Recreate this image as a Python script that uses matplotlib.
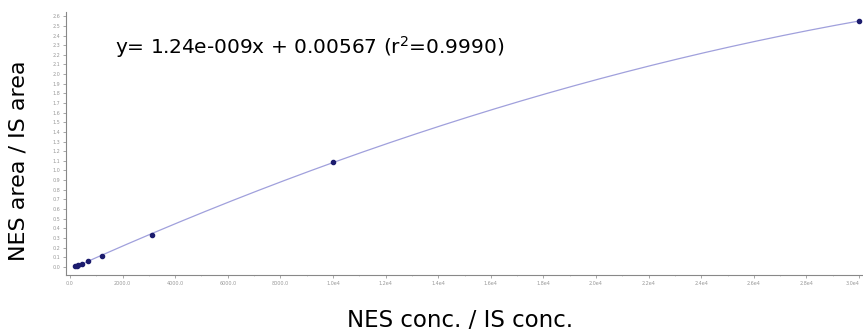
import numpy as np
import matplotlib
matplotlib.use("Agg")
import matplotlib.pyplot as plt

# calibration points (NES conc / IS conc, NES area / IS area)
conc = [180, 260, 300, 450, 680, 1200, 3125, 10000, 30000]
area_ratio = [0.005, 0.01, 0.015, 0.03, 0.06, 0.11, 0.33, 1.09, 2.55]

x_ticks = np.arange(0, 30001, 2000)
x_tick_labels = ["0.0", "2000.0", "4000.0", "6000.0", "8000.0", "1.0e4", "1.2e4", "1.4e4",
                 "1.6e4", "1.8e4", "2.0e4", "2.2e4", "2.4e4", "2.6e4", "2.8e4", "3.0e4"]
y_ticks = np.round(np.arange(0, 2.61, 0.1), 1)

equation = "y= 1.24e-009x + 0.00567 (r$^2$=0.9990)"

plt.rcParams['font.family'] = ['DejaVu Sans']

fig = plt.figure(figsize=(8.63, 3.31), dpi=100)
ax = fig.add_axes([0.0765, 0.169, 0.9235, 0.795])

# fitted calibration curve
coef = np.polyfit(conc, area_ratio, 2)
xs = np.linspace(min(conc), max(conc), 300)
ax.plot(xs, np.polyval(coef, xs), color="#a0a0dc", lw=0.9, zorder=2)
ax.plot(conc, area_ratio, "o", color="#1c1c6e", ms=3.0, zorder=3)

ax.set_xlim(-150, 30150)
ax.set_ylim(-0.085, 2.645)
ax.set_xticks(x_ticks)
ax.set_xticklabels(x_tick_labels)
ax.set_yticks(y_ticks)
ax.set_yticklabels([f"{v:.1f}" for v in y_ticks])
ax.set_xticks(np.arange(1000, 30000, 2000), minor=True)
ax.tick_params(axis="both", labelsize=3.5, colors="#999999", length=2, width=0.6, pad=2)
ax.tick_params(axis="both", which="minor", length=1, width=0.5, colors="#bbbbbb")
ax.get_xticklabels()[-1].set_horizontalalignment("right")

for side in ["top", "right"]:
    ax.spines[side].set_visible(False)
for side in ["left", "bottom"]:
    ax.spines[side].set_color("#888888")
    ax.spines[side].set_linewidth(0.8)

fig.text(0.133, 0.858, equation, fontsize=14.5, color="black", va="center", ha="left")
fig.text(0.022, 0.515, "NES area / IS area", fontsize=16, rotation=90, va="center", ha="center")
fig.text(0.533, 0.033, "NES conc. / IS conc.", fontsize=16.5, va="center", ha="center")

fig.savefig("out.png", dpi=100)
